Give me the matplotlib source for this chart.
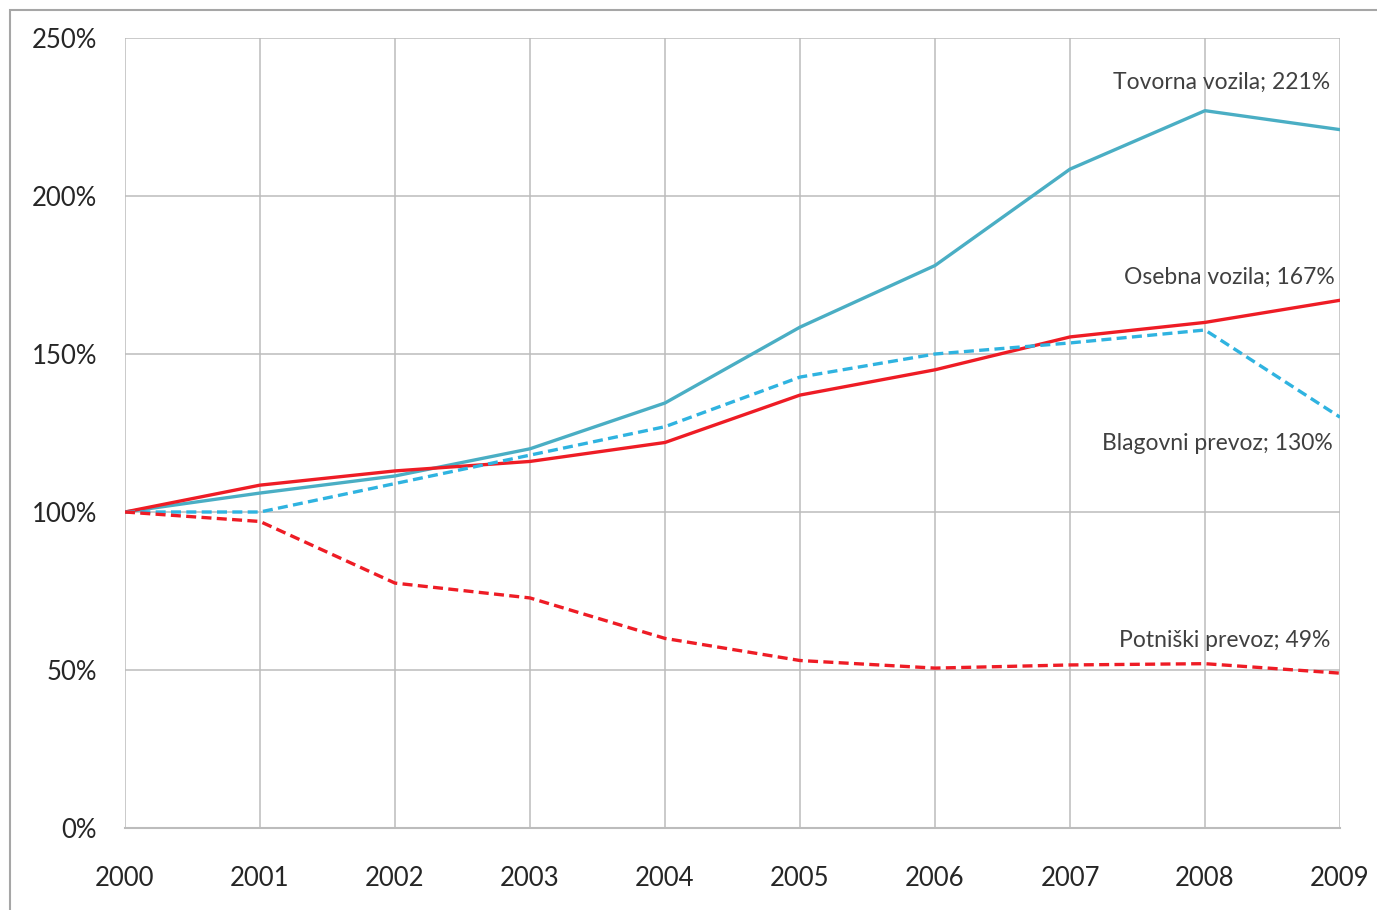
import matplotlib.pyplot as plt
import matplotlib.ticker as mticker
from matplotlib.patches import Rectangle

# Index of traffic growth, 2000 = 100%
years = [2000, 2001, 2002, 2003, 2004, 2005, 2006, 2007, 2008, 2009]
tovorna = [100, 106, 111.4, 120, 134.5, 158.5, 178, 208.5, 227, 221]
osebna = [100, 108.5, 113, 116, 122, 137, 145, 155.4, 160, 167]
blagovni = [100, 100, 109, 118, 127, 142.7, 150, 153.5, 157.6, 130]
potniski = [100, 97, 77.5, 72.8, 60, 53, 50.6, 51.6, 52, 49]

names = ['Tovorna vozila', 'Osebna vozila', 'Blagovni prevoz', 'Potniški prevoz']
series = [tovorna, osebna, blagovni, potniski]
colors = ['#4aaec4', '#ee1c25', '#2fb3e0', '#ee1c25']
styles = ['-', '-', '--', '--']
# label offsets from the last point, in pixels
offsets = [(-10, 47), (-5, 23), (-7, -26), (-10, 33)]

plt.rcParams['font.family'] = ['Lato', 'DejaVu Sans']

fig = plt.figure(figsize=(13.77, 9.10), dpi=100)
fig.patch.set_facecolor('white')
fig.patches.append(Rectangle((10 / 1377, -0.01), 1.02, (910 - 10) / 910 + 0.01,
                             transform=fig.transFigure, fill=False,
                             edgecolor='#a6a6a6', linewidth=1.5))

ax = fig.add_axes([125 / 1377, 82 / 910, 1215 / 1377, 790 / 910])

for vals, c, ls in zip(series, colors, styles):
    ax.plot(years, vals, color=c, linestyle=ls, linewidth=2.4,
            dashes=(3, 1.6) if ls == '--' else (None, None), zorder=3)

for name, vals, c, off in zip(names, series, colors, offsets):
    ax.annotate(f'{name}; {vals[-1]:.0f}%', xy=(years[-1], vals[-1]),
                xytext=off, textcoords='offset pixels', ha='right', va='center',
                fontsize=16.5, color='#404040')

ax.set_xlim(2000, 2009)
ax.set_ylim(0, 250)
ax.set_xticks(years)
ax.set_yticks([0, 50, 100, 150, 200, 250])
ax.yaxis.set_major_formatter(mticker.FuncFormatter(lambda v, _: f'{v:.0f}%'))
ax.grid(True, color='#bcbcbc', linewidth=1.1, zorder=0)
ax.set_axisbelow(True)
for s in ax.spines.values():
    s.set_visible(False)
ax.spines['bottom'].set_visible(True)
ax.spines['bottom'].set_color('#bcbcbc')
ax.spines['bottom'].set_linewidth(1.5)
ax.tick_params(axis='y', length=0, pad=20, labelsize=18.5, labelcolor='#262626')
ax.tick_params(axis='x', length=0, pad=27, labelsize=18.5, labelcolor='#262626')

plt.savefig('out.png', dpi=100, facecolor=fig.get_facecolor())
